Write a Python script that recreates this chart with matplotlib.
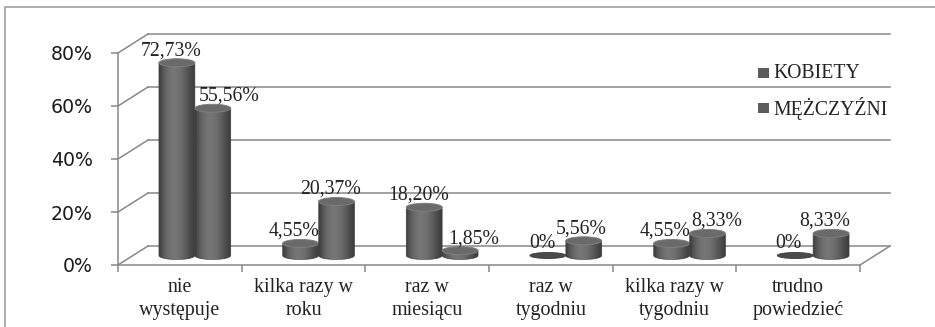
import matplotlib
matplotlib.use("Agg")
import matplotlib.pyplot as plt
import numpy as np
from matplotlib.patches import Ellipse, PathPatch, Rectangle
from matplotlib.path import Path
from matplotlib.transforms import Affine2D, IdentityTransform

# ---- data ----
categories = ["nie\nwystępuje", "kilka razy w\nroku", "raz w\nmiesiącu",
              "raz w\ntygodniu", "kilka razy w\ntygodniu", "trudno\npowiedzieć"]
kobiety = [72.73, 4.55, 18.20, 0.0, 4.55, 0.0]
mezczyzni = [55.56, 20.37, 1.85, 5.56, 8.33, 8.33]
series_names = ["KOBIETY", "MĘŻCZYŹNI"]
y_ticks = [0, 20, 40, 60, 80]

# horizontal nudges (pixels) for the value labels
kobiety_label_dx = [-6, -7, -6, -6, -7, -7]
mezczyzni_label_dx = [16, -6, 14, -3, 9, -6]

# ---- style ----
W, H = 935, 327
GRID = "#888888"
BAR_W = 0.29
DEPTH = (30, 19)          # back wall offset in pixels
MID = (15, 9.5)           # depth of the cylinders
ELL_PX = 8.0              # height of cylinder caps in pixels
SERIF = "Liberation Serif"

fig = plt.figure(figsize=(W / 100, H / 100), dpi=100)
ax = fig.add_axes([118 / W, (H - 265) / H, (860 - 118) / W, (265 - 53) / H])
ax.set_xlim(0, len(categories))
ax.set_ylim(0, 80)
ax.set_autoscale_on(False)
ax.patch.set_visible(False)

# outer frame of the chart area
fig.patches.append(Rectangle((5 / W, -0.1), 1.2, 1.1 - 7 / H,
                             transform=fig.transFigure, fill=False,
                             ec="#a0a0a0", lw=1.2))

back = ax.transData + Affine2D().translate(*DEPTH)
mid = ax.transData + Affine2D().translate(*MID)
ident = IdentityTransform()

# back wall grid lines and left wall diagonals
for v in y_ticks:
    ax.plot([0, len(categories)], [v, v], color=GRID, lw=1.1,
            transform=back, clip_on=False, zorder=1)
    p = ax.transData.transform((0, v))
    ax.plot([p[0], p[0] + DEPTH[0]], [p[1], p[1] + DEPTH[1]], color=GRID,
            lw=1.1, transform=ident, clip_on=False, zorder=1)
# right floor edge
p = ax.transData.transform((len(categories), 0))
ax.plot([p[0], p[0] + DEPTH[0]], [p[1], p[1] + DEPTH[1]], color=GRID,
        lw=1.1, transform=ident, clip_on=False, zorder=1)

# front axes
for s in ["top", "right"]:
    ax.spines[s].set_visible(False)
for s in ["left", "bottom"]:
    ax.spines[s].set_color(GRID)
    ax.spines[s].set_linewidth(1.1)
ax.set_yticks(y_ticks)
ax.set_yticklabels([f"{v}%" for v in y_ticks], fontsize=13.6,
                   family="DejaVu Sans", color="#1a1a1a")
ax.set_xticks(range(len(categories) + 1))
ax.set_xticklabels([])
ax.tick_params(axis="both", length=5, width=1.1, color=GRID, direction="out")
ax.tick_params(axis="y", pad=13.0)

for i, name in enumerate(categories):
    ax.annotate(name, xy=(i + 0.5, 0), xytext=(0, -13),
                textcoords="offset pixels", ha="center", va="top",
                fontsize=14.4, family=SERIF, color="#222222",
                linespacing=1.3, annotation_clip=False)

px_per_y = ax.transData.transform((0, 1))[1] - ax.transData.transform((0, 0))[1]
ry = ELL_PX / 2 / px_per_y


def shade(n=64):
    t = np.linspace(0, 1, n)
    lum = 0.24 + 0.22 * np.sin(np.pi * t ** 0.8) ** 1.2
    return np.dstack([lum, lum, lum])


GRAD = shade()


def cylinder(xc, value, z):
    x0, x1 = xc - BAR_W / 2, xc + BAR_W / 2
    if value <= 0:
        ax.add_patch(Ellipse((xc, 0), BAR_W, 2 * ry * 0.75, transform=mid,
                             fc="#4a4a4a", ec="#3a3a3a", lw=0.6, zorder=z,
                             clip_on=False))
        return
    th = np.linspace(np.pi, 2 * np.pi, 40)
    arc = np.column_stack([xc + BAR_W / 2 * np.cos(th), ry * np.sin(th)])
    verts = np.vstack([[x0, value], [x0, 0], arc, [x1, value], [x0, value]])
    codes = [Path.MOVETO] + [Path.LINETO] * (len(verts) - 2) + [Path.CLOSEPOLY]
    body = PathPatch(Path(verts, codes), transform=mid, fc="none",
                     ec="#3c3c3c", lw=0.5, zorder=z + 0.2, clip_on=False)
    ax.add_patch(body)
    im = ax.imshow(GRAD, extent=(x0, x1, -ry, value), aspect="auto",
                   interpolation="bilinear", zorder=z, transform=mid)
    im.set_clip_path(body)
    ax.add_patch(Ellipse((xc, value), BAR_W, 2 * ry, transform=mid,
                         fc="#6a6a6a", ec="#7e7e7e", lw=0.7, zorder=z + 0.3,
                         clip_on=False))


def fmt(v):
    return "0%" if v == 0 else f"{v:.2f}".replace(".", ",") + "%"


for i in range(len(categories)):
    for j, (vals, dxs) in enumerate([(kobiety, kobiety_label_dx),
                                     (mezczyzni, mezczyzni_label_dx)]):
        xc = i + 0.5 + (j - 0.5) * BAR_W
        cylinder(xc, vals[i], 3 + j)
        ax.annotate(fmt(vals[i]), xy=(xc, vals[i]), xycoords=mid,
                    xytext=(dxs[i], 12), textcoords="offset pixels",
                    ha="center", va="center", fontsize=14.2, family=SERIF,
                    color="#222222", zorder=6, annotation_clip=False)

ax.set_xlim(0, len(categories))
ax.set_ylim(0, 80)

# legend
for k, name in enumerate(series_names):
    yc = 73 + 35 * k
    fig.patches.append(Rectangle((758 / W, (H - yc - 5) / H), 11 / W, 10 / H,
                                 transform=fig.transFigure, fc="#5c5c5c",
                                 ec="none"))
    fig.text(773 / W, (H - yc) / H, name, ha="left", va="center",
             fontsize=14.2, family=SERIF, color="#222222")

fig.savefig("out.png", dpi=100, facecolor="white")
